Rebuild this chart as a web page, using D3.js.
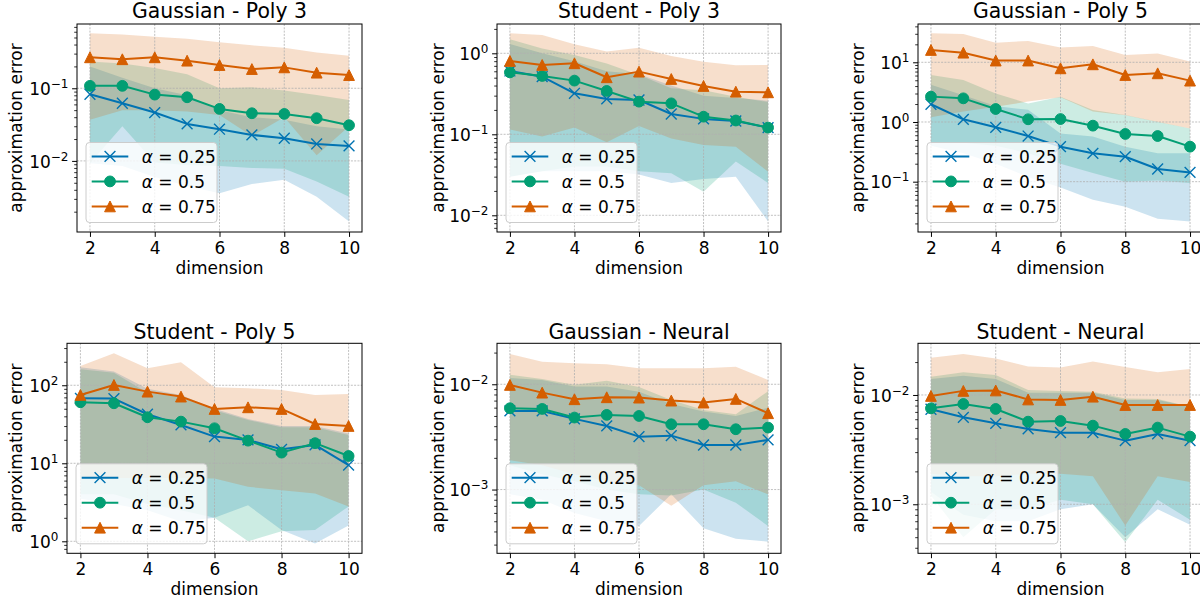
<!DOCTYPE html>
<html><head><meta charset="utf-8">
<script src="https://cdn.jsdelivr.net/npm/d3@7"></script>
<style>
html,body{margin:0;padding:0;background:#fff;overflow:hidden}
svg{display:block;font-family:"DejaVu Sans",sans-serif}
</style>
</head><body>
<svg id="chart" width="1200" height="602"></svg>
<script>
// ---------- data ----------
const dimensions = [2, 3, 4, 5, 6, 7, 8, 9, 10];
const alphaLabels = ["0.25", "0.5", "0.75"];
const panelTitles = ["Gaussian - Poly 3", "Student - Poly 3", "Gaussian - Poly 5",
                     "Student - Poly 5", "Gaussian - Neural", "Student - Neural"];
const xTickValues = [2, 4, 6, 8, 10];
const xLimits = [1.6, 10.4];
const yLimits = [[0.00105, 0.767], [0.00622, 2.30], [0.01436, 43.8],
                 [0.702, 345], [0.000248, 0.0245], [0.000356, 0.0297]];

// rows: alpha = 0.25, 0.5, 0.75
const gp3Mean = [
  [0.0827, 0.0622, 0.0463, 0.0323, 0.0273, 0.0228, 0.0205, 0.0171, 0.0161],
  [0.108, 0.108, 0.0818, 0.0752, 0.052, 0.0453, 0.0443, 0.0387, 0.031],
  [0.267, 0.251, 0.267, 0.240, 0.209, 0.184, 0.194, 0.164, 0.152]];
const gp3Low = [
  [0.0093, 0.0085, 0.006, 0.0045, 0.0036, 0.0048, 0.0055, 0.0032, 0.00146],
  [0.0093, 0.030, 0.0095, 0.0088, 0.0085, 0.008, 0.0078, 0.0052, 0.0032],
  [0.037, 0.05, 0.05, 0.048, 0.043, 0.022, 0.04, 0.012, 0.03]];
const gp3High = [
  [0.2, 0.14, 0.1, 0.08, 0.05, 0.04, 0.037, 0.03, 0.027],
  [0.233, 0.22, 0.19, 0.156, 0.10, 0.103, 0.093, 0.081, 0.069],
  [0.57, 0.55, 0.51, 0.48, 0.43, 0.39, 0.36, 0.31, 0.28]];

const sp3Mean = [
  [0.605, 0.515, 0.321, 0.273, 0.265, 0.178, 0.155, 0.146, 0.121],
  [0.582, 0.525, 0.460, 0.343, 0.253, 0.241, 0.165, 0.148, 0.121],
  [0.804, 0.718, 0.753, 0.506, 0.594, 0.482, 0.395, 0.336, 0.330]];
const sp3Low = [
  [0.03, 0.035, 0.035, 0.035, 0.032, 0.025, 0.028, 0.03, 0.0084],
  [0.03, 0.035, 0.04, 0.04, 0.035, 0.033, 0.0196, 0.046, 0.025],
  [0.115, 0.094, 0.121, 0.08, 0.127, 0.089, 0.074, 0.07, 0.0345]];
const sp3High = [
  [1.3, 1.0, 0.8, 0.6, 0.55, 0.4, 0.3, 0.28, 0.26],
  [1.49, 1.15, 0.95, 0.75, 0.54, 0.37, 0.35, 0.29, 0.25],
  [1.77, 1.68, 1.29, 1.05, 1.17, 0.927, 0.789, 0.711, 0.718]];

const gp5Mean = [
  [1.98, 1.11, 0.814, 0.582, 0.386, 0.299, 0.262, 0.163, 0.143],
  [2.66, 2.49, 1.65, 1.11, 1.12, 0.868, 0.63, 0.582, 0.386],
  [16.1, 14.5, 10.7, 10.7, 7.93, 9.25, 6.13, 6.54, 4.93]];
const gp5Low = [
  [0.4, 0.3, 0.2, 0.12, 0.08, 0.05, 0.038, 0.024, 0.0215],
  [0.45, 0.45, 0.4, 0.3, 0.2, 0.14, 0.1, 0.105, 0.095],
  [1.2, 1.5, 1.8, 2.2, 2.6, 1.5, 1.3, 1.0, 0.78]];
const gp5High = [
  [4.2, 2.8, 1.85, 1.6, 0.64, 0.57, 0.386, 0.3, 0.3],
  [6.13, 5.06, 3.0, 2.05, 2.66, 1.59, 1.31, 1.01, 0.78],
  [30.6, 29.8, 21.3, 22.8, 17.7, 18.8, 13.3, 14.1, 10.3]];

const sp5Mean = [
  [68.1, 67.6, 42.5, 31.0, 22.0, 19.9, 15.1, 17.2, 9.5],
  [60.5, 58.8, 38.9, 34.2, 28.1, 19.5, 13.7, 18.1, 12.4],
  [75.2, 100.9, 82.9, 71.6, 49.7, 52.2, 49.7, 31.9, 30.1]];
const sp5Low = [
  [3.5, 3.0, 2.5, 1.8, 2.0, 2.9, 1.4, 0.94, 1.6],
  [4.0, 4.0, 3.0, 2.5, 2.0, 1.0, 1.35, 1.4, 2.8],
  [6.5, 6.5, 6.5, 6.5, 6.4, 5.0, 4.5, 4.1, 2.8]];
const sp5High = [
  [170, 150, 90, 75, 50, 37, 30, 30, 24],
  [160, 145, 80, 70, 48, 36, 29, 29, 23],
  [177, 257, 165, 197, 94.3, 91.5, 87.1, 75.2, 77.4]];

const gnMean = [
  [0.00558, 0.00558, 0.00469, 0.00402, 0.00318, 0.00325, 0.00265, 0.00265, 0.00296],
  [0.00592, 0.00583, 0.00483, 0.00512, 0.005, 0.00417, 0.00417, 0.00374, 0.00388],
  [0.00986, 0.00833, 0.00721, 0.00753, 0.00747, 0.0070, 0.0067, 0.00726, 0.00531]];
const gnLow = [
  [0.0009, 0.0008, 0.0006, 0.0005, 0.00045, 0.0009, 0.00043, 0.00034, 0.00032],
  [0.0017, 0.0014, 0.0012, 0.001, 0.0009, 0.00088, 0.001, 0.00075, 0.00045],
  [0.0019, 0.0017, 0.0014, 0.0012, 0.0011, 0.0007, 0.0011, 0.0012, 0.0009]];
const gnHigh = [
  [0.0115, 0.011, 0.0095, 0.0095, 0.0085, 0.0065, 0.0055, 0.005, 0.006],
  [0.0123, 0.0112, 0.0099, 0.0108, 0.0094, 0.0071, 0.0057, 0.0052, 0.0086],
  [0.0194, 0.0164, 0.0158, 0.0155, 0.0142, 0.0142, 0.0142, 0.0147, 0.011]];

const snMean = [
  [0.0074, 0.00625, 0.0055, 0.00489, 0.00452, 0.00452, 0.00382, 0.0044, 0.00382],
  [0.00755, 0.00827, 0.00745, 0.0057, 0.00578, 0.00524, 0.0044, 0.00503, 0.00416],
  [0.0098, 0.0109, 0.011, 0.0091, 0.009, 0.00965, 0.0081, 0.0081, 0.0081]];
const snLow = [
  [0.0013, 0.0008, 0.0007, 0.0007, 0.0009, 0.001, 0.0005, 0.0009, 0.00065],
  [0.0012, 0.0005, 0.0009, 0.0009, 0.0011, 0.001, 0.00045, 0.0011, 0.00072],
  [0.0019, 0.0018, 0.0018, 0.0019, 0.0019, 0.0018, 0.00064, 0.0018, 0.0016]];
const snHigh = [
  [0.014, 0.015, 0.014, 0.0105, 0.0105, 0.0105, 0.009, 0.009, 0.0078],
  [0.0147, 0.0161, 0.0152, 0.0111, 0.0109, 0.0107, 0.0093, 0.0092, 0.0078],
  [0.0219, 0.0237, 0.0216, 0.0182, 0.0178, 0.0202, 0.018, 0.0161, 0.0173]];

// ---------- layout / style ----------
const panels = [
  {mean: gp3Mean, low: gp3Low, high: gp3High},
  {mean: sp3Mean, low: sp3Low, high: sp3High},
  {mean: gp5Mean, low: gp5Low, high: gp5High},
  {mean: sp5Mean, low: sp5Low, high: sp5High},
  {mean: gnMean, low: gnLow, high: gnHigh},
  {mean: snMean, low: snLow, high: snHigh}];
const boxes = [
  {l: 77, r: 362, t: 24, b: 232, ylab: 16, titleY: 17.5},
  {l: 497, r: 781, t: 24, b: 232, ylab: 438, titleY: 17.5},
  {l: 918, r: 1203, t: 24, b: 232, ylab: 858, titleY: 17.5},
  {l: 67, r: 362, t: 343.3, b: 553.3, ylab: 16, titleY: 339.3},
  {l: 497, r: 781, t: 343.3, b: 553.3, ylab: 438, titleY: 339.3},
  {l: 918, r: 1203, t: 343.3, b: 553.3, ylab: 858, titleY: 339.3}];
const colors = ["#0173b2", "#029e73", "#d55e00"];
const FS = 17, TFS = 20.4, MS = 5.4;

const svg = d3.select("#chart");
svg.append("rect").attr("width", 1200).attr("height", 602).attr("fill", "#fff");
const defs = svg.append("defs");

function drawMarker(sel, s, cx, cy) {
  if (s === 0) {
    sel.append("path")
      .attr("d", `M${cx - MS},${cy - MS}L${cx + MS},${cy + MS}M${cx - MS},${cy + MS}L${cx + MS},${cy - MS}`)
      .attr("stroke", colors[s]).attr("stroke-width", 1.4).attr("fill", "none");
  } else if (s === 1) {
    sel.append("circle").attr("cx", cx).attr("cy", cy).attr("r", MS)
      .attr("fill", colors[s]).attr("stroke", colors[s]).attr("stroke-width", 1);
  } else {
    sel.append("path")
      .attr("d", `M${cx},${cy - MS}L${cx + MS},${cy + MS}L${cx - MS},${cy + MS}Z`)
      .attr("fill", colors[s]).attr("stroke", colors[s]).attr("stroke-width", 1);
  }
}

panels.forEach((p, i) => {
  const bx = boxes[i];
  const x = d3.scaleLinear().domain(xLimits).range([bx.l, bx.r]);
  const y = d3.scaleLog().domain(yLimits[i]).range([bx.b, bx.t]);
  const g = svg.append("g");
  const clipId = "clip" + i;
  defs.append("clipPath").attr("id", clipId).append("rect")
    .attr("x", bx.l).attr("y", bx.t).attr("width", bx.r - bx.l).attr("height", bx.b - bx.t);
  const plot = g.append("g").attr("clip-path", `url(#${clipId})`);

  // bands
  p.mean.forEach((m, s) => {
    const area = d3.area()
      .x((d, k) => x(dimensions[k]))
      .y0((d, k) => y(p.low[s][k]))
      .y1((d, k) => y(p.high[s][k]));
    plot.append("path").datum(m).attr("d", area)
      .attr("fill", colors[s]).attr("fill-opacity", 0.2);
  });

  // ticks
  const [lo, hi] = yLimits[i];
  const majors = [], minors = [];
  for (let e = Math.floor(Math.log10(lo)); e <= Math.ceil(Math.log10(hi)); e++) {
    const v = Math.pow(10, e);
    if (v >= lo && v <= hi) majors.push(v);
    for (let j = 2; j <= 9; j++) {
      const mv = j * v;
      if (mv >= lo && mv <= hi) minors.push(mv);
    }
  }

  // grid
  const grid = plot.append("g").attr("stroke", "#b0b0b0").attr("stroke-width", 0.8)
    .attr("stroke-dasharray", "2,1.3");
  xTickValues.forEach(v => grid.append("line")
    .attr("x1", x(v)).attr("x2", x(v)).attr("y1", bx.t).attr("y2", bx.b));
  majors.forEach(v => grid.append("line")
    .attr("x1", bx.l).attr("x2", bx.r).attr("y1", y(v)).attr("y2", y(v)));

  // lines + markers
  p.mean.forEach((m, s) => {
    const line = d3.line().x((d, k) => x(dimensions[k])).y(d => y(d));
    plot.append("path").datum(m).attr("d", line).attr("fill", "none")
      .attr("stroke", colors[s]).attr("stroke-width", 2).attr("stroke-linejoin", "round");
    const mg = plot.append("g");
    m.forEach((d, k) => drawMarker(mg, s, x(dimensions[k]), y(d)));
  });

  // spines
  g.append("rect").attr("x", bx.l).attr("y", bx.t).attr("width", bx.r - bx.l)
    .attr("height", bx.b - bx.t).attr("fill", "none").attr("stroke", "#000").attr("stroke-width", 1);

  // x axis
  const xa = g.append("g").attr("transform", `translate(0,${bx.b})`)
    .call(d3.axisBottom(x).tickValues(xTickValues).tickSize(4.9).tickPadding(5).tickSizeOuter(0));
  xa.select(".domain").remove();
  xa.selectAll(".tick line").attr("stroke", "#000").attr("stroke-width", 1);
  xa.selectAll(".tick text").attr("font-size", FS).attr("font-family", "DejaVu Sans").attr("fill", "#000");

  // y axis (major)
  const ya = g.append("g").attr("transform", `translate(${bx.l},0)`)
    .call(d3.axisLeft(y).tickValues(majors).tickSize(4.9).tickPadding(3.6).tickSizeOuter(0));
  ya.select(".domain").remove();
  ya.selectAll(".tick line").attr("stroke", "#000").attr("stroke-width", 1);
  ya.selectAll(".tick text").attr("font-size", FS).attr("font-family", "DejaVu Sans").attr("fill", "#000")
    .attr("dy", "0.36em")
    .each(function (d) {
      const t = d3.select(this);
      const ex = Math.round(Math.log10(d));
      t.text(null);
      t.append("tspan").text("10");
      t.append("tspan").attr("dy", -7).attr("font-size", 12)
        .text(ex < 0 ? "\u2212" + Math.abs(ex) : String(ex));
    });
  // y axis (minor)
  const ym = g.append("g").attr("transform", `translate(${bx.l},0)`)
    .call(d3.axisLeft(y).tickValues(minors).tickSize(2.8).tickFormat("").tickSizeOuter(0));
  ym.select(".domain").remove();
  ym.selectAll(".tick line").attr("stroke", "#000").attr("stroke-width", 0.8);

  // labels
  g.append("text").attr("x", (bx.l + bx.r) / 2).attr("y", bx.b + 41.5)
    .attr("text-anchor", "middle").attr("font-size", FS).attr("fill", "#000").text("dimension");
  g.append("text").attr("transform", `translate(${bx.ylab},${(bx.t + bx.b) / 2}) rotate(-90)`)
    .attr("text-anchor", "middle").attr("dy", "0.35em").attr("font-size", FS).attr("fill", "#000")
    .text("approximation error");
  g.append("text").attr("x", (bx.l + bx.r) / 2).attr("y", bx.titleY)
    .attr("text-anchor", "middle").attr("font-size", TFS).attr("fill", "#000").text(panelTitles[i]);

  // legend
  const lg = g.append("g").attr("transform", `translate(${bx.l + 9},${bx.b - 9.5 - 80})`);
  lg.append("rect").attr("width", 131).attr("height", 80).attr("rx", 3.5)
    .attr("fill", "#fff").attr("fill-opacity", 0.8).attr("stroke", "#cccccc").attr("stroke-width", 1);
  alphaLabels.forEach((lab, s) => {
    const ry = 13.9 + s * 25;
    lg.append("line").attr("x1", 5.7).attr("x2", 42.3).attr("y1", ry).attr("y2", ry)
      .attr("stroke", colors[s]).attr("stroke-width", 2);
    drawMarker(lg, s, 24, ry);
    const t = lg.append("text").attr("x", 55.7).attr("y", ry).attr("dy", "0.38em")
      .attr("font-size", FS).attr("fill", "#000");
    t.append("tspan").attr("font-style", "italic").text("\u03b1");
    t.append("tspan").text(" = " + lab);
  });
});
</script>
</body></html>
